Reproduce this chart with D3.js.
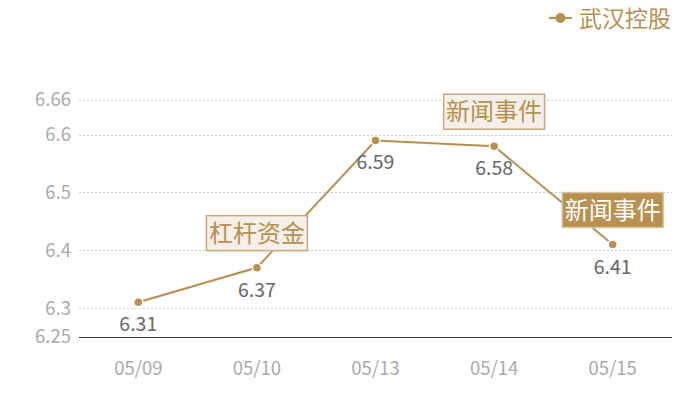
<!DOCTYPE html>
<html>
<head>
<meta charset="utf-8">
<script src="https://cdn.jsdelivr.net/npm/d3@7"></script>
<style>
  body { margin: 0; background: #fff; }
  text { font-family: "Noto Sans CJK SC", "Noto Sans", sans-serif; }
</style>
</head>
<body>
<div id="chart"></div>
<script>
// data
var dates = ["05/09", "05/10", "05/13", "05/14", "05/15"];
var prices = [6.31, 6.37, 6.59, 6.58, 6.41];
var yTicks = [6.25, 6.3, 6.4, 6.5, 6.6, 6.66];
var seriesName = "武汉控股";
// annotations: index of the point, text, style
var noteIdx = [1, 3, 4];
var noteText = ["杠杆资金", "新闻事件", "新闻事件"];
var noteDark = [false, false, true];

var width = 700;
var height = 400;
var gold = "#b8904f";

var svg = d3.select('#chart')
    .append('svg')
    .attr('width', width)
    .attr('height', height);

var x = d3.scaleBand()
    .domain(dates)
    .range([79, 672]);

var y = d3.scaleLinear()
    .domain([6.25, 6.66])
    .range([337, 100]);

// grid lines (dashed)
svg.append('g')
    .selectAll('line')
    .data(yTicks.filter(d => d != 6.25))
    .enter()
    .append('line')
    .attr('x1', 79)
    .attr('x2', 672)
    .attr('y1', d => Math.round(y(d)) + 0.5)
    .attr('y2', d => Math.round(y(d)) + 0.5)
    .attr('stroke', '#cccccc')
    .attr('stroke-dasharray', '2,2');

// y axis labels
var yAxis = d3.axisLeft(y)
    .tickValues(yTicks)
    .tickSize(0)
    .tickPadding(8)
    .tickFormat(d => String(d));
var gy = svg.append('g')
    .attr('transform', 'translate(79,0)')
    .call(yAxis);
gy.select('.domain').remove();
gy.selectAll('text')
    .attr('fill', '#aaaaaa')
    .style('font-size', '18.5px')
    .attr('font-family', null);

// x axis
var xAxis = d3.axisBottom(x).tickSize(0).tickPadding(25);
var gx = svg.append('g')
    .attr('transform', 'translate(0,' + 337 + ')')
    .call(xAxis);
gx.select('.domain').attr('stroke', '#333').attr('d', 'M79,0.5H672');
gx.selectAll('text')
    .attr('fill', '#aaaaaa')
    .style('font-size', '18.5px')
    .attr('font-family', null);

var cx = (d, i) => x(dates[i]) + x.bandwidth() / 2;

// line
var line = d3.line()
    .x((d, i) => cx(d, i))
    .y(d => y(d));

svg.append('path')
    .datum(prices)
    .attr('d', line)
    .attr('fill', 'none')
    .attr('stroke', gold)
    .attr('stroke-width', 2);

svg.append('g')
    .selectAll('circle')
    .data(prices)
    .enter()
    .append('circle')
    .attr('cx', (d, i) => cx(d, i))
    .attr('cy', d => y(d))
    .attr('r', 4.5)
    .attr('fill', gold)
    .attr('stroke', '#fff')
    .attr('stroke-width', 1.5);

// value labels
svg.append('g')
    .selectAll('text')
    .data(prices)
    .enter()
    .append('text')
    .attr('x', (d, i) => cx(d, i))
    .attr('y', d => y(d) + 29)
    .attr('text-anchor', 'middle')
    .attr('fill', '#666666')
    .style('font-size', '19.5px')
    .text(d => d);

// annotation boxes
var boxW = 101, boxH = 35;
var notes = svg.append('g')
    .selectAll('g')
    .data(noteIdx)
    .enter()
    .append('g')
    .attr('transform', (d, i) => 'translate(' + cx(prices[d], d) + ',' + (y(prices[d]) - 17) + ')');

notes.append('rect')
    .attr('x', -boxW / 2)
    .attr('y', -boxH)
    .attr('width', boxW)
    .attr('height', boxH)
    .attr('fill', (d, i) => noteDark[i] ? gold : '#f4efe8')
    .attr('stroke', (d, i) => noteDark[i] ? '#d8c4a0' : '#c9a978')
    .attr('stroke-width', 1.5);

notes.append('text')
    .attr('x', 0)
    .attr('y', -boxH / 2 + 8.5)
    .attr('text-anchor', 'middle')
    .attr('fill', (d, i) => noteDark[i] ? '#fff' : gold)
    .style('font-size', '24px')
    .text((d, i) => noteText[i]);

// legend
var legend = svg.append('g').attr('transform', 'translate(549,18)');
legend.append('line')
    .attr('x1', 0).attr('x2', 23)
    .attr('stroke', gold).attr('stroke-width', 2);
legend.append('circle')
    .attr('cx', 11.5).attr('r', 5)
    .attr('fill', gold);
legend.append('text')
    .attr('x', 30)
    .attr('y', 9)
    .attr('fill', gold)
    .style('font-size', '23px')
    .text(seriesName);
</script>
</body>
</html>
